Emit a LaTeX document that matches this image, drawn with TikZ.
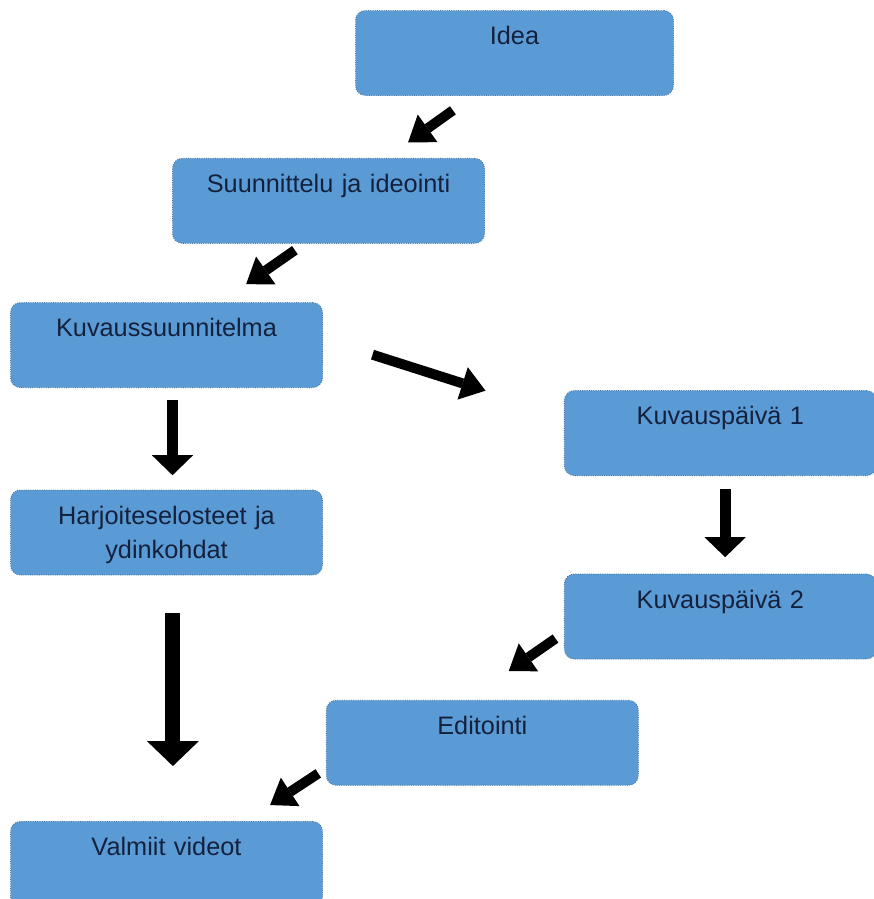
\documentclass[tikz,border=0pt]{standalone}
\usepackage{fontspec}
\setmainfont{Liberation Sans}
\usetikzlibrary{arrows.meta,positioning}
\definecolor{fpblue}{HTML}{5B9BD5}
\definecolor{fpedge}{HTML}{41719C}
\definecolor{fpink}{HTML}{14213D}
\begin{document}
\begin{tikzpicture}[
  box/.style={rounded corners=7pt, draw=fpedge, densely dotted, line width=0.6pt, fill=fpblue,
              text width=7.8cm, minimum height=2.125cm, text height=0.85cm, text depth=1.275cm,
              inner sep=0pt, align=center, text=fpink, font=\fontsize{18}{24.2}\selectfont},
  arr/.style={line width=0.25cm, -{Triangle[width=0.85cm, length=0.6cm, line width=0pt]}},
  arrmid/.style={line width=0.28cm, -{Triangle[width=1.03cm, length=0.5cm, line width=0pt]}},
  arrbig/.style={line width=0.375cm, -{Triangle[width=1.3cm, length=0.625cm, line width=0pt]}}
]
\useasboundingbox (0,0) rectangle (21.85,-22.475);
\node[box, text width=7.95cm] (idea) at (12.8625,-1.325) {Idea};
\node[box, below=1.55cm of idea, xshift=-4.65cm] (plan) {Suunnittelu ja ideointi};
\node[box, below=1.46cm of plan, xshift=-4.05cm] (shoot) {Kuvaussuunnitelma};
\node[box, below=2.54cm of shoot] (notes) {Harjoiteselosteet ja\\ydinkohdat};
\node[box, right=6.025cm of shoot, yshift=-2.2cm] (day1) {Kuvauspäivä 1};
\node[box, below=2.44cm of day1] (day2) {Kuvauspäivä 2};
\node[box, below=1.01cm of day2, xshift=-5.95cm] (edit) {Editointi};
\node[box, below=6.14cm of notes] (videos) {Valmiit videot};
\draw[arr] ([xshift=-1.54cm, yshift=-0.36cm]idea.south) -- ([xshift=1.99cm, yshift=0.39cm]plan.north);
\draw[arr] ([xshift=-0.84cm, yshift=-0.16cm]plan.south) -- ([xshift=1.99cm, yshift=0.45cm]shoot.north);
\draw[arr] ([xshift=1.24cm, yshift=-0.24cm]shoot.east) -- ([xshift=-1.96cm, yshift=1.06cm]day1.west);
\draw[arrmid] ([xshift=0.15cm, yshift=-0.3cm]shoot.south) -- ([xshift=0.15cm, yshift=0.36cm]notes.north);
\draw[arrmid] ([xshift=0.12cm, yshift=-0.33cm]day1.south) -- ([xshift=0.12cm, yshift=0.41cm]day2.north);
\draw[arr] ([xshift=-0.21cm, yshift=-0.55cm]day2.west) -- ([xshift=0.66cm, yshift=0.72cm]edit.north);
\draw[arrbig] ([xshift=0.16cm, yshift=-0.94cm]notes.south) -- ([xshift=0.16cm, yshift=1.375cm]videos.north);
\draw[arr] ([xshift=-0.19cm, yshift=-0.765cm]edit.west) -- ([xshift=2.59cm, yshift=0.4cm]videos.north);
\end{tikzpicture}
\end{document}
